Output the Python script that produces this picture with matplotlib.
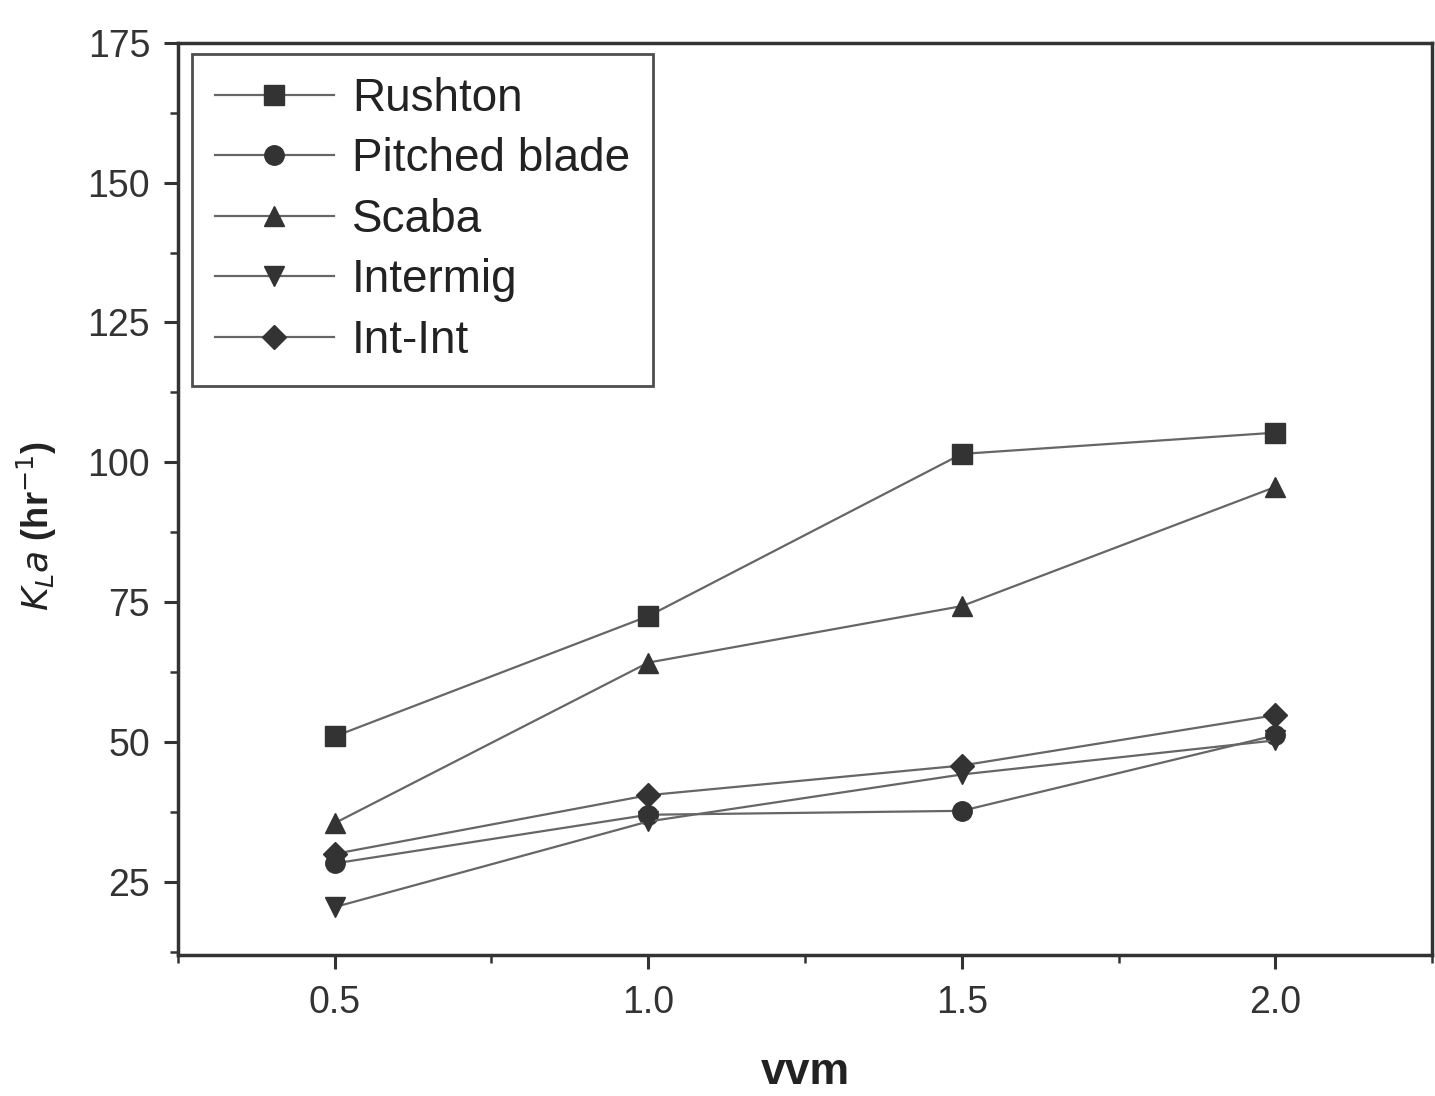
import matplotlib.pyplot as plt
from matplotlib.ticker import MultipleLocator

plt.rcParams['font.family'] = ['Liberation Sans', 'DejaVu Sans']

vvm = [0.5, 1.0, 1.5, 2.0]
rushton = [51.0, 72.5, 101.5, 105.3]
pitched = [28.3, 37.0, 37.7, 51.2]
scaba = [35.5, 64.2, 74.3, 95.6]
intermig = [20.5, 35.8, 44.2, 50.3]
int_int = [30.0, 40.5, 45.8, 54.8]

series = [
    ("Rushton", rushton, "s"),
    ("Pitched blade", pitched, "o"),
    ("Scaba", scaba, "^"),
    ("Intermig", intermig, "v"),
    ("Int-Int", int_int, "D"),
]

fig = plt.figure(figsize=(14.35, 10.96), dpi=100)
ax = fig.add_axes([0.124, 0.129, 0.874, 0.832])

for name, vals, m in series:
    ms = 12 if m == "D" else 14
    ax.plot(vvm, vals, color="#666666", lw=1.6, marker=m, markersize=ms,
            markerfacecolor="#333333", markeredgecolor="#333333", label=name)

ax.set_xlim(0.25, 2.25)
ax.set_ylim(12, 175)
ax.xaxis.set_major_locator(MultipleLocator(0.5))
ax.xaxis.set_minor_locator(MultipleLocator(0.25))
ax.yaxis.set_major_locator(MultipleLocator(25))
ax.yaxis.set_minor_locator(MultipleLocator(12.5))
ax.tick_params(which="major", direction="out", length=10, width=2.2,
               labelsize=27, colors="#333333")
ax.tick_params(axis="x", which="major", pad=12)
ax.tick_params(axis="y", which="major", pad=10)
ax.tick_params(which="minor", direction="out", length=6, width=1.8, colors="#333333")
ax.xaxis.set_major_formatter(plt.FuncFormatter(lambda v, p: f"{v:.1f}"))

for s in ax.spines.values():
    s.set_linewidth(2.5)
    s.set_color("#333333")

ax.set_xlabel("vvm", fontsize=32, fontweight="bold", color="#222222", labelpad=22)
ax.set_ylabel(r"$\mathit{K_L a}$ (hr$^{-1}$)", fontsize=26, fontweight="bold",
              color="#222222")
ax.yaxis.set_label_coords(-0.095, 0.47)

leg = ax.legend(loc="upper left", bbox_to_anchor=(0.011, 0.988), fontsize=33,
                frameon=True, fancybox=False, edgecolor="#222222",
                handlelength=2.6, labelspacing=0.36, borderpad=0.5,
                handletextpad=0.4, borderaxespad=0)
leg.get_frame().set_linewidth(2)
for t in leg.get_texts():
    t.set_color("#222222")

fig.savefig("out.png", dpi=100)
